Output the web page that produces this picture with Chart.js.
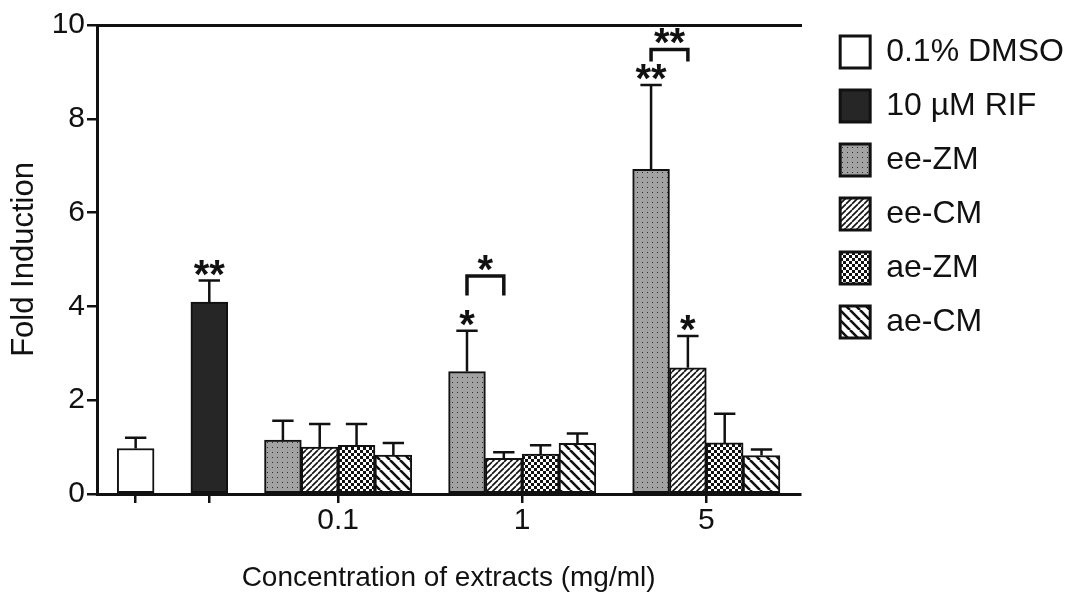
<!DOCTYPE html>
<html>
<head>
<meta charset="utf-8">
<script src="https://cdn.jsdelivr.net/npm/chart.js@4"></script>
<style>
  html, body { margin: 0; padding: 0; background: #fff; }
  #wrap { width: 1087px; height: 607px; }
</style>
</head>
<body>
<div id="wrap"><canvas id="foldChart"></canvas></div>
<script>
// Values (fold induction, mean and error bar)
var controlLabels = ['0.1% DMSO', '10 µM RIF'];
var controlMeans = [0.97, 4.09];
var controlErrors = [0.23, 0.46];
var controlStars = ['', '**'];

var concentrations = ['0.1', '1', '5'];
var extractLabels = ['ee-ZM', 'ee-CM', 'ae-ZM', 'ae-CM'];
var eeZM = [1.15, 2.61, 6.92];
var eeCM = [1.00, 0.76, 2.69];
var aeZM = [1.04, 0.85, 1.09];
var aeCM = [0.83, 1.08, 0.82];
var eeZMErr = [0.41, 0.87, 1.80];
var eeCMErr = [0.49, 0.13, 0.68];
var aeZMErr = [0.45, 0.19, 0.62];
var aeCMErr = [0.26, 0.21, 0.13];
var eeZMStars = ['', '*', '**'];
var eeCMStars = ['', '', '*'];
var aeZMStars = ['', '', ''];
var aeCMStars = ['', '', ''];

// ee-ZM vs ee-CM comparison brackets
var bracketGroups = ['1', '5'];
var bracketTops = [4.65, 9.48];
var bracketEnds = [4.23, 9.22];
var bracketStars = ['*', '**'];

var FONT = "'Liberation Sans', Arial, Helvetica, sans-serif";
var INK = '#111';
var X_MIN = -1.05, X_MAX = 18.05;

// slot layout: controls every other slot, then groups of 4 with a gap
function controlSlot(i) { return i * 2; }
function extractSlot(g, j) { return 4 + g * 5 + j; }
function groupCenter(g) { return 4 + g * 5 + (extractLabels.length - 1) / 2; }

var tickSlots = [controlSlot(0), controlSlot(1)].concat(concentrations.map(function (c, g) { return groupCenter(g); }));
var tickTexts = ['', ''].concat(concentrations);

function makePattern(size, draw) {
    var c = document.createElement('canvas');
    c.width = size;
    c.height = size;
    var g = c.getContext('2d');
    draw(g, size);
    return g.createPattern(c, 'repeat');
}

function diagonal(g, s, width, forward) {
    g.fillStyle = '#fff';
    g.fillRect(0, 0, s, s);
    g.strokeStyle = INK;
    g.lineWidth = width;
    g.beginPath();
    [-s, 0, s].forEach(function (a) {
        if (forward) { g.moveTo(a, s); g.lineTo(a + s, 0); }
        else { g.moveTo(a, 0); g.lineTo(a + s, s); }
    });
    g.stroke();
}

var dotted = makePattern(5, function (g, s) {
    g.fillStyle = '#a2a2a2';
    g.fillRect(0, 0, s, s);
    g.fillStyle = '#2e2e2e';
    g.fillRect(2, 2, 1, 1);
});
var fineHatch = makePattern(6, function (g, s) { diagonal(g, s, 1.6, true); });
var checker = makePattern(6, function (g, s) {
    g.fillStyle = '#fff';
    g.fillRect(0, 0, s, s);
    g.fillStyle = INK;
    g.fillRect(0, 0, 3, 3);
    g.fillRect(3, 3, 3, 3);
});
var wideHatch = makePattern(10, function (g, s) { diagonal(g, s, 2.6, false); });

var extractSeries = [eeZM, eeCM, aeZM, aeCM];
var extractErrors = [eeZMErr, eeCMErr, aeZMErr, aeCMErr];
var extractStars = [eeZMStars, eeCMStars, aeZMStars, aeCMStars];
var extractFills = [dotted, fineHatch, checker, wideHatch];
var controlFills = ['#ffffff', '#262626'];

function barSet(label, points, fill, errors, stars) {
    return {
        label: label,
        data: points,
        errors: errors,
        stars: stars,
        backgroundColor: fill,
        borderColor: INK,
        borderWidth: 2,
        borderSkipped: false,
        grouped: false,
        barPercentage: 1,
        categoryPercentage: 1
    };
}

var datasets = [];
controlLabels.forEach(function (name, i) {
    datasets.push(barSet(name, [{ x: controlSlot(i), y: controlMeans[i] }],
        controlFills[i], [controlErrors[i]], [controlStars[i]]));
});
extractLabels.forEach(function (name, j) {
    var pts = concentrations.map(function (c, g) { return { x: extractSlot(g, j), y: extractSeries[j][g] }; });
    datasets.push(barSet(name, pts, extractFills[j], extractErrors[j], extractStars[j]));
});

function drawStars(ctx, text, cx, bottomY) {
    ctx.font = 'bold 40px ' + FONT;
    ctx.textAlign = 'center';
    ctx.textBaseline = 'alphabetic';
    ctx.fillStyle = INK;
    var m = ctx.measureText(text);
    ctx.fillText(text, cx, bottomY - m.actualBoundingBoxDescent);
}

var errorBarPlugin = {
    id: 'errorBars',
    afterDatasetsDraw: function (chart) {
        var ctx = chart.ctx;
        var yScale = chart.scales.y;
        ctx.save();
        ctx.strokeStyle = INK;
        ctx.lineWidth = 2.5;
        chart.data.datasets.forEach(function (ds, i) {
            var meta = chart.getDatasetMeta(i);
            if (meta.hidden) return;
            meta.data.forEach(function (bar, k) {
                var tip = yScale.getPixelForValue(ds.data[k].y + ds.errors[k]);
                var half = bar.width * 0.29;
                ctx.beginPath();
                ctx.moveTo(bar.x, bar.y);
                ctx.lineTo(bar.x, tip);
                ctx.moveTo(bar.x - half, tip);
                ctx.lineTo(bar.x + half, tip);
                ctx.stroke();
                if (ds.stars[k]) drawStars(ctx, ds.stars[k], bar.x, tip - 5);
            });
        });

        // comparison brackets between ee-ZM and ee-CM
        var leftMeta = chart.getDatasetMeta(controlLabels.length);
        var rightMeta = chart.getDatasetMeta(controlLabels.length + 1);
        ctx.lineWidth = 3.5;
        ctx.lineJoin = 'miter';
        bracketGroups.forEach(function (name, b) {
            var g = concentrations.indexOf(name);
            var xl = leftMeta.data[g].x;
            var xr = rightMeta.data[g].x;
            var top = yScale.getPixelForValue(bracketTops[b]);
            var end = yScale.getPixelForValue(bracketEnds[b]);
            ctx.beginPath();
            ctx.moveTo(xl, end);
            ctx.lineTo(xl, top);
            ctx.lineTo(xr, top);
            ctx.lineTo(xr, end);
            ctx.stroke();
            drawStars(ctx, bracketStars[b], (xl + xr) / 2, top - 5);
        });
        ctx.restore();
    }
};

// leave a wider gap between the plot frame and the legend boxes
var legendGap = {
    id: 'legendGap',
    afterLayout: function (chart) {
        if (!chart.legend) return;
        chart.legend.left += 18;
        chart.legend.right += 18;
    }
};

var ctx = document.getElementById('foldChart').getContext('2d');
var foldChart = new Chart(ctx, {
    type: 'bar',
    data: { datasets: datasets },
    plugins: [errorBarPlugin, legendGap],
    options: {
        responsive: true,
        maintainAspectRatio: false,
        animation: false,
        layout: { padding: { top: 0, right: 31, bottom: 0, left: 0 } },
        scales: {
            x: {
                type: 'linear',
                position: 'bottom',
                min: X_MIN,
                max: X_MAX,
                offset: false,
                afterBuildTicks: function (scale) {
                    scale.ticks = tickSlots.map(function (v) { return { value: v }; });
                },
                ticks: {
                    autoSkip: false,
                    maxRotation: 0,
                    padding: 0,
                    color: INK,
                    font: { family: FONT, size: 30, lineHeight: 1.15 },
                    callback: function (v) {
                        var i = tickSlots.indexOf(v);
                        return i < 0 ? '' : tickTexts[i];
                    }
                },
                grid: { display: true, offset: false, drawOnChartArea: false, tickLength: 9, lineWidth: 2.5, color: INK },
                border: { display: true, width: 3, color: INK },
                title: {
                    display: true,
                    text: 'Concentration of extracts (mg/ml)',
                    color: INK,
                    font: { family: FONT, size: 28 },
                    padding: { top: 0, bottom: 12 }
                },
                afterFit: function (scale) { scale.height = 113; }
            },
            y: {
                type: 'linear',
                position: 'left',
                min: 0,
                max: 10,
                ticks: { stepSize: 2, padding: 2, color: INK, font: { family: FONT, size: 30 } },
                grid: { drawOnChartArea: false, tickLength: 10, lineWidth: 2.5, color: INK },
                border: { display: true, width: 3, color: INK },
                title: {
                    display: true,
                    text: 'Fold Induction',
                    color: INK,
                    font: { family: FONT, size: 31 },
                    padding: { top: 6, bottom: 0 }
                },
                afterFit: function (scale) { scale.width = 97; }
            },
            // top frame line (border) and right frame line (grid line at the end)
            xTop: {
                type: 'linear',
                axis: 'x',
                position: 'top',
                min: X_MIN,
                max: X_MAX,
                afterBuildTicks: function (scale) { scale.ticks = [{ value: X_MAX }]; },
                ticks: { display: false },
                grid: { display: true, drawOnChartArea: true, drawTicks: false, lineWidth: 3, color: INK },
                border: { display: true, width: 3, color: INK },
                afterFit: function (scale) { scale.height = 25; }
            }
        },
        plugins: {
            tooltip: { enabled: false },
            legend: {
                display: true,
                position: 'right',
                align: 'start',
                title: { display: true, text: '', font: { size: 14, lineHeight: 1 }, padding: 0 },
                labels: {
                    boxWidth: 30,
                    boxHeight: 32,
                    padding: 22,
                    color: INK,
                    font: { family: FONT, size: 32 },
                    generateLabels: function (chart) {
                        var items = Chart.defaults.plugins.legend.labels.generateLabels(chart);
                        items.forEach(function (it) { it.lineWidth = 3; });
                        return items;
                    }
                }
            }
        }
    }
});
</script>
</body>
</html>
